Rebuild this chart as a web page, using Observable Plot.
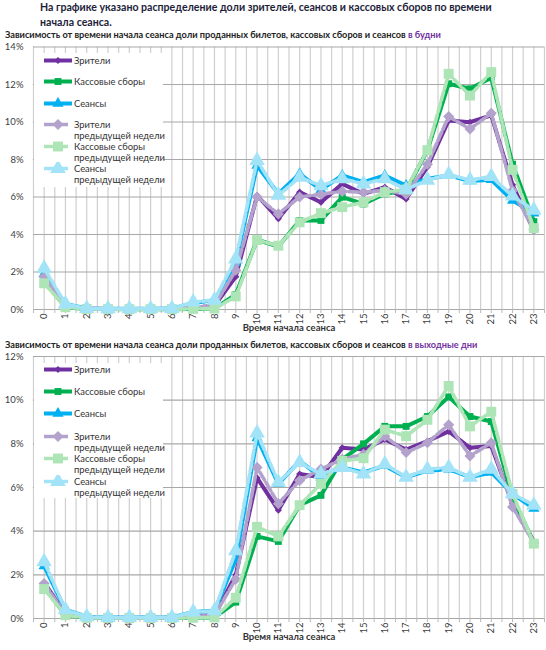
<!DOCTYPE html>
<html>
<head>
<meta charset="utf-8">
<script src="https://cdn.jsdelivr.net/npm/d3@7"></script>
<script src="https://cdn.jsdelivr.net/npm/@observablehq/plot@0.6"></script>
<style>
  html, body { margin: 0; padding: 0; background: #fff; }
  body { width: 546px; height: 650px; position: relative; overflow: hidden; font-family: Lato, "Open Sans", sans-serif; }
  .title { position: absolute; left: 40px; top: 0px; font-weight: bold; font-size: 10.6px; line-height: 15px; color: #1e1e3a; white-space: nowrap; }
  .sub { position: absolute; left: 5px; font-weight: bold; font-size: 9.2px; line-height: 12px; color: #222; white-space: nowrap; }
  .sub span { color: #7030A0; }
  .chart { position: absolute; left: 0; }
  .legend { position: absolute; left: 34px; width: 129px; background: #fff; }
  .entry { position: absolute; left: 0; font-size: 9.4px; line-height: 11px; color: #333; white-space: nowrap; }
  .entry svg { position: absolute; left: 9px; top: -1px; }
  .entry .t { position: absolute; left: 40px; top: 0px; }
</style>
</head>
<body>
<div class="title">На графике указано распределение доли зрителей, сеансов и кассовых сборов по времени<br>начала сеанса.</div>
<div class="sub" style="top:29px">Зависимость от времени начала сеанса доли проданных билетов, кассовых сборов и сеансов <span>в будни</span></div>
<div class="chart" id="c1" style="top:40px"></div>
<div class="sub" style="top:339px">Зависимость от времени начала сеанса доли проданных билетов, кассовых сборов и сеансов <span>в выходные дни</span></div>
<div class="chart" id="c2" style="top:350px"></div>

<script>
// ---- data (percent of total, by session start hour) ----
const hours = [0,1,2,3,4,5,6,7,8,9,10,11,12,13,14,15,16,17,18,19,20,21,22,23];
const hourLabels = ["0","1","2","3","4","5","6","7","8","9","10","11","12","13","14","15","16","17","18","19","20","21","22","23"];
const seriesNames = ["Зрители", "Кассовые сборы", "Сеансы", "Зрители\nпредыдущей недели", "Кассовые сборы\nпредыдущей недели", "Сеансы\nпредыдущей недели"];
const xTitle = "Время начала сеанса";

// weekdays
const wdViewers      = [1.70,0.15,0.05,0.03,0.03,0.03,0.03,0.10,0.20,1.75,6.08,4.84,6.26,5.72,6.70,6.17,6.52,5.90,7.60,10.08,9.99,10.35,6.65,4.20];
const wdBox          = [1.55,0.12,0.03,0.02,0.02,0.02,0.02,0.03,0.05,0.80,3.72,3.36,4.75,4.75,5.99,5.63,6.17,6.35,8.48,12.04,11.77,12.36,7.75,4.69];
const wdSessions     = [1.90,0.30,0.05,0.04,0.04,0.04,0.05,0.35,0.50,2.50,7.68,6.17,7.24,6.38,7.15,6.79,7.15,6.61,6.97,7.15,6.85,6.92,5.81,5.14];
const wdViewersPrev  = [1.75,0.15,0.05,0.03,0.03,0.03,0.03,0.10,0.20,2.10,6.00,5.10,6.00,6.15,6.30,6.26,6.35,6.15,7.75,10.29,9.63,10.47,6.35,4.25];
const wdBoxPrev      = [1.40,0.12,0.03,0.02,0.02,0.02,0.02,0.03,0.05,0.70,3.70,3.40,4.65,5.14,5.46,5.72,6.26,6.40,8.50,12.57,11.41,12.66,7.45,4.34];
const wdSessionsPrev = [2.20,0.30,0.05,0.04,0.04,0.04,0.05,0.40,0.50,2.70,7.95,6.10,7.05,6.60,6.97,6.70,6.97,6.40,6.90,7.20,6.90,7.09,6.05,5.30];

// weekends
const weViewers      = [1.65,0.20,0.05,0.03,0.03,0.03,0.03,0.10,0.15,2.00,6.44,4.96,6.62,6.47,7.82,7.74,8.20,7.74,8.12,8.57,7.82,7.90,5.26,3.53];
const weBox          = [1.45,0.15,0.03,0.02,0.02,0.02,0.02,0.03,0.05,0.75,3.76,3.53,5.19,5.64,7.29,8.00,8.80,8.80,9.25,10.15,9.25,9.02,5.56,3.46];
const weSessions     = [2.40,0.40,0.08,0.05,0.05,0.05,0.05,0.30,0.35,2.70,8.27,6.17,7.22,6.47,6.92,6.69,7.00,6.47,6.77,6.84,6.47,6.69,5.71,5.04];
const weViewersPrev  = [1.60,0.20,0.05,0.03,0.03,0.03,0.03,0.10,0.15,1.80,6.92,5.26,6.32,6.84,7.29,7.52,8.35,7.60,8.05,8.87,7.44,8.05,5.11,3.46];
const weBoxPrev      = [1.35,0.15,0.03,0.02,0.02,0.02,0.02,0.03,0.05,0.95,4.20,3.76,5.19,6.17,7.22,7.34,8.65,8.35,9.10,10.65,8.80,9.47,5.71,3.43];
const weSessionsPrev = [2.60,0.40,0.08,0.05,0.05,0.05,0.05,0.30,0.35,3.10,8.50,6.24,7.14,6.62,6.92,6.62,7.07,6.47,6.84,6.92,6.47,6.84,5.71,5.19];

const wdTicks = [0,2,4,6,8,10,12,14];
const weTicks = [0,2,4,6,8,10,12];

// ---- styles ----
const styles = [
  {color: "#7030A0", symbol: "diamond2", r: 3.2, width: 4,   dash: null},
  {color: "#00B050", symbol: "square",   r: 3.9, width: 4,   dash: null},
  {color: "#00B0F0", symbol: "triangle", r: 4.2, width: 4,   dash: null},
  {color: "#B3A2CC", symbol: "diamond2", r: 5.0, width: 3.6, dash: "9,3"},
  {color: "#ADE5B7", symbol: "square",   r: 5.6, width: 3.6, dash: "9,3"},
  {color: "#A3E3F7", symbol: "triangle", r: 5.8, width: 3.6, dash: "9,3"}
];

const halfs = d3.range(-0.5, 23.51, 0.5);

function makeChart(el, seriesVals, yTicks, height, mt, mb) {
  const marks = [
    Plot.ruleX(halfs, {stroke: "#cfcfcf", strokeWidth: 1.2}),
    Plot.ruleY(yTicks, {stroke: "#a8a8a8", strokeWidth: 1.2}),
    Plot.axisX(halfs, {tickSize: 4, tickFormat: () => "", stroke: "#b8b8b8", label: null}),
    Plot.axisX(hours, {tickSize: 0, tickRotate: -90, tickPadding: 4, tickFormat: d => hourLabels[d], label: null, fill: "#404040"}),
    Plot.axisY(yTicks, {tickSize: 0, tickPadding: 10, tickFormat: d => d + "%", label: null, fill: "#404040"})
  ];
  seriesVals.forEach((vals, i) => {
    const s = styles[i];
    const data = hours.map((h, j) => ({h, v: vals[j]}));
    marks.push(Plot.line(data, {x: "h", y: "v", stroke: s.color, strokeWidth: s.width, strokeDasharray: s.dash, strokeLinejoin: "round"}));
    marks.push(Plot.dot(data, {x: "h", y: "v", symbol: () => s.symbol, fill: s.color, r: s.r}));
  });
  marks.push(Plot.text([xTitle], {text: d => d, frameAnchor: "bottom", dy: 21, fontWeight: "bold", fontSize: 9.5, fill: "#333"}));
  const svg = Plot.plot({
    width: 546, height,
    marginLeft: 33, marginRight: 2, marginTop: mt, marginBottom: mb,
    style: {fontFamily: "Lato, 'Open Sans', sans-serif", fontSize: "9.5px", background: "white", overflow: "visible"},
    x: {domain: [-0.5, 23.5], label: null},
    y: {domain: [0, yTicks[yTicks.length - 1]], label: null},
    symbol: {type: "identity"},
    marks
  });
  el.appendChild(svg);
}

function makeLegend(boxTop, boxH, rowStart, step) {
  const lg = document.createElement("div");
  lg.className = "legend";
  lg.style.top = boxTop + "px";
  lg.style.height = boxH + "px";
  seriesNames.forEach((name, i) => {
    const s = styles[i];
    const e = document.createElement("div");
    e.className = "entry";
    e.style.top = (rowStart + i * step - boxTop - 5.5) + "px";
    const ns = "http://www.w3.org/2000/svg";
    const sv = document.createElementNS(ns, "svg");
    sv.setAttribute("width", 30); sv.setAttribute("height", 13);
    const ln = document.createElementNS(ns, "line");
    ln.setAttribute("x1", 1); ln.setAttribute("x2", 29); ln.setAttribute("y1", 6.5); ln.setAttribute("y2", 6.5);
    ln.setAttribute("stroke", s.color); ln.setAttribute("stroke-width", s.width);
    if (s.dash) ln.setAttribute("stroke-dasharray", "10,4");
    sv.appendChild(ln);
    const symMap = {diamond2: d3.symbolDiamond2, square: d3.symbolSquare, triangle: d3.symbolTriangle};
    const p = document.createElementNS(ns, "path");
    p.setAttribute("d", d3.symbol(symMap[s.symbol], s.r * s.r * Math.PI)());
    p.setAttribute("transform", "translate(15,6.5)");
    p.setAttribute("fill", s.color);
    sv.appendChild(p);
    e.appendChild(sv);
    const t = document.createElement("div");
    t.className = "t";
    t.innerHTML = name.split("\n").join("<br>");
    e.appendChild(t);
    lg.appendChild(e);
  });
  document.body.appendChild(lg);
}

makeChart(document.getElementById("c1"),
  [wdViewers, wdBox, wdSessions, wdViewersPrev, wdBoxPrev, wdSessionsPrev], wdTicks, 295, 6.5, 26);
makeChart(document.getElementById("c2"),
  [weViewers, weBox, weSessions, weViewersPrev, weBoxPrev, weSessionsPrev], weTicks, 300, 6, 32);

makeLegend(53, 134, 60, 21.6);
makeLegend(363, 135, 369, 22.4);
</script>
</body>
</html>
